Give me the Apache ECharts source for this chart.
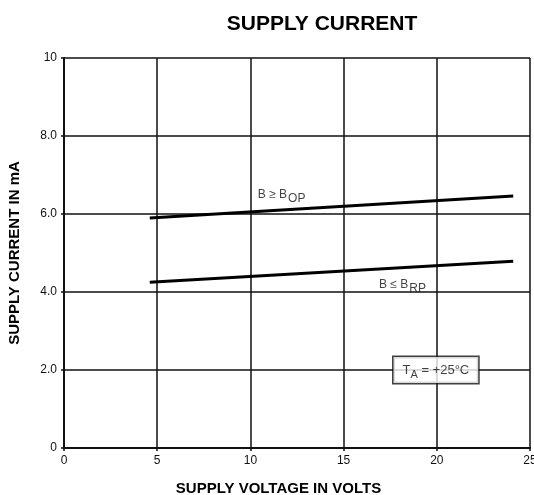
<!DOCTYPE html>
<html>
<head>
<meta charset="utf-8">
<script src="https://cdn.jsdelivr.net/npm/echarts@6/dist/echarts.min.js"></script>
<style>
  html, body { margin: 0; padding: 0; background: #fff; }
  #chart { width: 534px; height: 495px; }
</style>
</head>
<body>
<div id="chart"></div>
<script>
// supply voltage (V) at the ends of each curve
var voltage = [4.6, 24.1];
// supply current (mA)
var currentOp = [5.9, 6.46]; // B >= BOP
var currentRp = [4.25, 4.79]; // B <= BRP

var xTicks = [0, 5, 10, 15, 20, 25];
var yTicks = [0, 2, 4, 6, 8, 10];

// annotation anchors [volts, mA]
var opLabelAt = [10.4, 6.5];
var rpLabelAt = [16.9, 4.2];
var tempLabelAt = [19.95, 2.0];

var font = 'Liberation Sans, Arial, sans-serif';
var myChart = echarts.init(document.getElementById('chart'));

function pairs(xs, ys) {
  return xs.map(function (x, i) { return [x, ys[i]]; });
}

var subRich = {
  b: { fontFamily: font, fontSize: 12, color: '#111' },
  s: { fontFamily: font, fontSize: 12, color: '#111', padding: [9, 0, 0, 1] }
};

myChart.setOption({
  backgroundColor: '#fff',
  animation: false,
  title: {
    text: 'SUPPLY CURRENT',
    left: 317,
    top: 9,
    textAlign: 'center',
    textStyle: { fontFamily: font, fontSize: 21, fontWeight: 'bold', color: '#000' }
  },
  grid: { left: 64, right: 4, top: 58, bottom: 47, outerBoundsMode: 'none' },
  xAxis: {
    type: 'value',
    min: 0,
    max: 25,
    interval: 5,
    name: 'SUPPLY VOLTAGE IN VOLTS',
    nameLocation: 'middle',
    nameGap: 33,
    nameTextStyle: {
      fontFamily: font, fontSize: 15, fontWeight: 'bold', color: '#000',
      padding: [0, 37, 0, 0]
    },
    axisLine: { lineStyle: { color: '#111', width: 2 } },
    axisTick: { show: true, length: 3, lineStyle: { color: '#111', width: 1.5 } },
    axisLabel: {
      fontFamily: font, fontSize: 12, color: '#111', margin: 7,
      formatter: function (v) { return xTicks.indexOf(v) >= 0 ? String(v) : ''; }
    },
    splitLine: { show: true, lineStyle: { color: '#111', width: 1.5 } }
  },
  yAxis: {
    type: 'value',
    min: 0,
    max: 10,
    interval: 2,
    name: 'SUPPLY CURRENT IN mA',
    nameLocation: 'middle',
    nameGap: 42,
    nameTextStyle: { fontFamily: font, fontSize: 15, fontWeight: 'bold', color: '#000' },
    axisLine: { show: true, lineStyle: { color: '#111', width: 2 } },
    axisTick: { show: true, length: 3, lineStyle: { color: '#111', width: 1.5 } },
    axisLabel: {
      fontFamily: font, fontSize: 12, color: '#111', margin: 7,
      formatter: function (v) {
        if (yTicks.indexOf(v) < 0) return '';
        return v === 0 || v === 10 ? String(v) : v.toFixed(1);
      }
    },
    splitLine: { show: true, lineStyle: { color: '#111', width: 1.5 } }
  },
  series: [
    {
      name: 'B >= BOP',
      type: 'line',
      data: pairs(voltage, currentOp),
      symbol: 'none',
      lineStyle: { color: '#000', width: 3 },
      z: 5
    },
    {
      name: 'B <= BRP',
      type: 'line',
      data: pairs(voltage, currentRp),
      symbol: 'none',
      lineStyle: { color: '#000', width: 3 },
      z: 5
    },
    {
      type: 'scatter',
      symbolSize: 0,
      z: 10,
      data: [
        {
          value: opLabelAt,
          label: {
            show: true, position: 'inside', align: 'left', verticalAlign: 'middle',
            formatter: '{b|B \u2265 B}{s|OP}', rich: subRich
          }
        },
        {
          value: rpLabelAt,
          label: {
            show: true, position: 'inside', align: 'left', verticalAlign: 'middle',
            formatter: '{b|B \u2264 B}{s|RP}', rich: subRich
          }
        },
        {
          value: tempLabelAt,
          label: {
            show: true, position: 'inside', align: 'center', verticalAlign: 'middle',
            backgroundColor: '#fff', borderColor: '#111', borderWidth: 1.5,
            padding: [4, 9, 3, 9],
            formatter: '{t|T}{s|A}{t| = +25\u00b0C}',
            rich: {
              t: { fontFamily: font, fontSize: 13, color: '#111' },
              s: { fontFamily: font, fontSize: 11, color: '#111', padding: [8, 0, 0, 0] }
            }
          }
        }
      ]
    }
  ]
});
</script>
</body>
</html>
